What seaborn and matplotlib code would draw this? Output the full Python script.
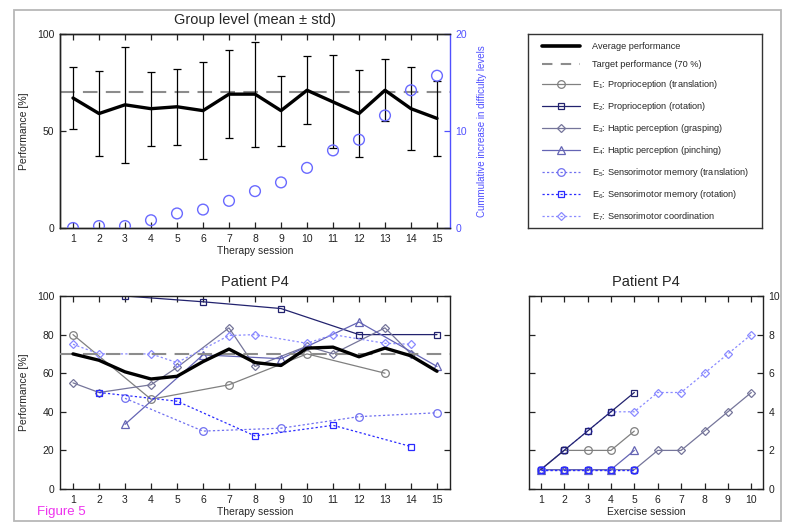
import numpy as np
import pandas as pd
import matplotlib
matplotlib.use("Agg")
import matplotlib.pyplot as plt
import seaborn as sns
from matplotlib.lines import Line2D
from matplotlib.patches import Rectangle

# ---- group level -------------------------------------------------------
sessions = list(range(1, 16))
group_mean = [67, 59, 63.5, 61.5, 62.5, 60.5, 69, 69, 60.5, 71, 65, 59, 71, 61.5, 56.5]
group_std = [16, 22, 30, 19, 19.5, 25, 22.5, 27, 18, 17.5, 24, 22.5, 16, 21.5, 19.5]
cum_difficulty = [0, 0.2, 0.2, 0.8, 1.5, 1.9, 2.8, 3.8, 4.7, 6.2, 8.0, 9.1, 11.6, 14.2, 15.7]
target_perf = 70

# ---- patient P4: performance per therapy session -------------------------
p4_average = [70, 66.7, 60.7, 57, 58.4, 66, 72.5, 65.5, 64, 73, 73.5, 68.5, 73, 69, 61]

e1_sessions = [1, 4, 7, 10, 13]
e1_perf = [80, 46.5, 54, 70, 60]
e2_sessions = [3, 6, 9, 12, 15]
e2_perf = [100, 97, 93.5, 80, 80]
e3_sessions = [1, 2, 4, 5, 7, 8, 10, 11, 13, 14]
e3_perf = [55, 50, 54, 63, 83.5, 63.5, 74, 70, 83.5, 70]
e4_sessions = [3, 6, 9, 12, 15]
e4_perf = [33.5, 69.5, 67.5, 86.5, 63.5]
e5_sessions = [3, 6, 9, 12, 15]
e5_perf = [47, 30, 31.5, 37.5, 39.5]
e6_sessions = [2, 5, 8, 11, 14]
e6_perf = [50, 45.5, 27.5, 33, 22]
e7_sessions = [1, 2, 4, 5, 7, 8, 10, 11, 13, 14]
e7_perf = [75, 70, 70, 65.5, 79.5, 80, 75.5, 80, 75.5, 75]

# ---- patient P4: difficulty level per exercise session ------------------
e1_levels = [1, 2, 2, 2, 3]
e2_levels = [1, 2, 3, 4, 5]
e3_levels = [1, 1, 1, 1, 1, 2, 2, 3, 4, 5]
e4_levels = [1, 1, 1, 1, 2]
e5_levels = [1, 1, 1, 1, 1]
e6_levels = [1, 1, 1, 1, 1]
e7_levels = [1, 2, 3, 4, 4, 5, 5, 6, 7, 8]

exercise_names = [
    "E$_1$: Proprioception (translation)",
    "E$_2$: Proprioception (rotation)",
    "E$_3$: Haptic perception (grasping)",
    "E$_4$: Haptic perception (pinching)",
    "E$_5$: Sensorimotor memory (translation)",
    "E$_6$: Sensorimotor memory (rotation)",
    "E$_7$: Sensorimotor coordination",
]
exercise_sessions = [e1_sessions, e2_sessions, e3_sessions, e4_sessions,
                     e5_sessions, e6_sessions, e7_sessions]
exercise_perf = [e1_perf, e2_perf, e3_perf, e4_perf, e5_perf, e6_perf, e7_perf]
exercise_levels = [e1_levels, e2_levels, e3_levels, e4_levels,
                   e5_levels, e6_levels, e7_levels]

# line styles for each exercise
DOT = (0, (1.8, 1.8))
styles = {
    exercise_names[0]: dict(color="#808080", marker="o", ms=5.5, ls="-"),
    exercise_names[1]: dict(color="#22226e", marker="s", ms=4.8, ls="-"),
    exercise_names[2]: dict(color="#75759a", marker="D", ms=4.2, ls="-"),
    exercise_names[3]: dict(color="#6464b4", marker="^", ms=5.5, ls="-"),
    exercise_names[4]: dict(color="#7070f0", marker="o", ms=5.5, ls=DOT),
    exercise_names[5]: dict(color="#2a2aff", marker="s", ms=4.8, ls=DOT),
    exercise_names[6]: dict(color="#8a8aff", marker="D", ms=4.2, ls=DOT),
}

group_df = pd.DataFrame({"session": sessions, "mean": group_mean,
                         "std": group_std, "cum": cum_difficulty})
avg_df = pd.DataFrame({"session": sessions, "performance": p4_average})
perf_df = pd.concat([
    pd.DataFrame({"exercise": name, "session": s, "performance": p})
    for name, s, p in zip(exercise_names, exercise_sessions, exercise_perf)
], ignore_index=True)
level_df = pd.concat([
    pd.DataFrame({"exercise": name, "ex_session": np.arange(1, len(lv) + 1), "level": lv})
    for name, lv in zip(exercise_names, exercise_levels)
], ignore_index=True)

# ---- style -------------------------------------------------------------
sns.set_theme(style="ticks")
plt.rcParams["font.family"] = ["Liberation Sans", "DejaVu Sans"]
plt.rcParams["mathtext.default"] = "regular"
plt.rcParams["xtick.direction"] = "in"
plt.rcParams["ytick.direction"] = "in"
plt.rcParams["axes.linewidth"] = 1.0
plt.rcParams["axes.edgecolor"] = "#222222"

W, H = 787, 524
fig = plt.figure(figsize=(W / 100, H / 100), dpi=100)
fig.patch.set_facecolor("white")
fig.patches.append(Rectangle((14 / W, 1 - 521 / H), (781 - 14) / W, (521 - 10) / H,
                             transform=fig.transFigure, fill=False,
                             edgecolor="#b8b8b8", lw=1.3))

ax_top = fig.add_axes([60 / W, 1 - 228 / H, 390 / W, 194 / H])
ax_leg = fig.add_axes([528 / W, 1 - 228 / H, 234 / W, 194 / H])
ax_p = fig.add_axes([60 / W, 1 - 489 / H, 390 / W, 193 / H])
ax_lv = fig.add_axes([529 / W, 1 - 489 / H, 234 / W, 193 / H])

TICK = dict(labelsize=7.5, length=4, width=0.9, colors="#222222", pad=4)
BLUE = "#5050ff"

# ---- group level panel -------------------------------------------------
ax_top.axhline(target_perf, color="#8c8c8c", lw=1.5, dashes=(7, 4), zorder=1)
ax_top.errorbar(group_df["session"], group_df["mean"], yerr=group_df["std"],
                fmt="none", ecolor="black", elinewidth=0.9, capsize=3, capthick=0.9, zorder=2)
sns.lineplot(data=group_df, x="session", y="mean", color="black", lw=2.4, ax=ax_top, zorder=3)
ax_top.set_xlim(0.5, 15.5)
ax_top.set_ylim(0, 100)
ax_top.set_xticks(sessions)
ax_top.set_yticks([0, 50, 100])
ax_top.tick_params(axis="both", top=True, right=False, **TICK)
ax_top.set_xlabel("Therapy session", fontsize=7.5, labelpad=2)
ax_top.set_ylabel("Performance [%]", fontsize=7.5, labelpad=6)
ax_top.set_title("Group level (mean \u00b1 std)", fontsize=10.5, pad=7)
ax_top.spines["right"].set_visible(False)

ax_cum = ax_top.twinx()
sns.scatterplot(data=group_df, x="session", y="cum", ax=ax_cum, s=60, marker="o", zorder=4)
pts = ax_cum.collections[-1]
pts.set_facecolor("none")
pts.set_edgecolor("#6a6aff")
pts.set_linewidth(1.0)
ax_cum.set_ylim(0, 20)
ax_cum.set_yticks([0, 10, 20])
ax_cum.tick_params(axis="y", labelsize=7.5, length=4, width=0.9, colors=BLUE, pad=4)
ax_cum.spines["right"].set_color(BLUE)
ax_cum.set_ylabel("Cummulative increase in difficulty levels", fontsize=7, color=BLUE, labelpad=7)

# ---- patient P4 performance panel ---------------------------------------
for name in exercise_names:
    st = styles[name]
    sns.lineplot(data=perf_df[perf_df["exercise"] == name], x="session", y="performance",
                 ax=ax_p, color=st["color"], lw=0.9, linestyle=st["ls"],
                 marker=st["marker"], markersize=st["ms"], markerfacecolor="none",
                 markeredgecolor=st["color"], markeredgewidth=0.9, zorder=2)
ax_p.axhline(target_perf, color="#8c8c8c", lw=1.5, dashes=(7, 4), zorder=3)
sns.lineplot(data=avg_df, x="session", y="performance", color="black", lw=2.4, ax=ax_p, zorder=4)
ax_p.set_xlim(0.5, 15.5)
ax_p.set_ylim(0, 100)
ax_p.set_xticks(sessions)
ax_p.set_yticks(range(0, 101, 20))
ax_p.tick_params(axis="both", top=True, right=True, **TICK)
ax_p.set_xlabel("Therapy session", fontsize=7.5, labelpad=2)
ax_p.set_ylabel("Performance [%]", fontsize=7.5, labelpad=6)
ax_p.set_title("Patient P4", fontsize=10.5, pad=7)

# ---- patient P4 difficulty level panel ---------------------------------
level_order = [exercise_names[i] for i in (0, 2, 3, 6, 1, 4, 5)]
for name in level_order:
    st = styles[name]
    sns.lineplot(data=level_df[level_df["exercise"] == name], x="ex_session", y="level",
                 ax=ax_lv, color=st["color"], lw=0.9, linestyle=st["ls"],
                 marker=st["marker"], markersize=st["ms"], markerfacecolor="none",
                 markeredgecolor=st["color"], markeredgewidth=0.9)
ax_lv.set_xlim(0.5, 10.5)
ax_lv.set_ylim(0, 10)
ax_lv.set_xticks(range(1, 11))
ax_lv.set_yticks(range(0, 11, 2))
ax_lv.tick_params(axis="both", top=True, right=True, left=True,
                  labelleft=False, labelright=True, **TICK)
ax_lv.set_xlabel("Exercise session", fontsize=7.5, labelpad=2)
ax_lv.set_ylabel("")
ax_lv.set_title("Patient P4", fontsize=10.5, pad=7)

# ---- legend --------------------------------------------------------------
handles = [Line2D([], [], color="black", lw=2.6),
           Line2D([], [], color="#8c8c8c", lw=1.5, dashes=(5, 4))]
labels = ["Average performance", "Target performance (70 %)"]
for name in exercise_names:
    st = styles[name]
    handles.append(Line2D([], [], color=st["color"], lw=0.9, linestyle=st["ls"],
                          marker=st["marker"], markersize=st["ms"], markerfacecolor="none",
                          markeredgecolor=st["color"], markeredgewidth=0.9))
    labels.append(name)
ax_leg.set_xticks([])
ax_leg.set_yticks([])
for sp in ax_leg.spines.values():
    sp.set_color("#333333")
    sp.set_linewidth(1.0)
ax_leg.legend(handles, labels, loc="upper left", bbox_to_anchor=(0.06, 0.96),
              frameon=False, fontsize=6.6, handlelength=4.1, handletextpad=1.35,
              labelspacing=0.99, borderpad=0, borderaxespad=0)

fig.text(37 / W, 1 - 512 / H, "Figure 5", color="#ee33ee", fontsize=9.5,
         ha="left", va="center")

fig.savefig("out.png", dpi=100)
